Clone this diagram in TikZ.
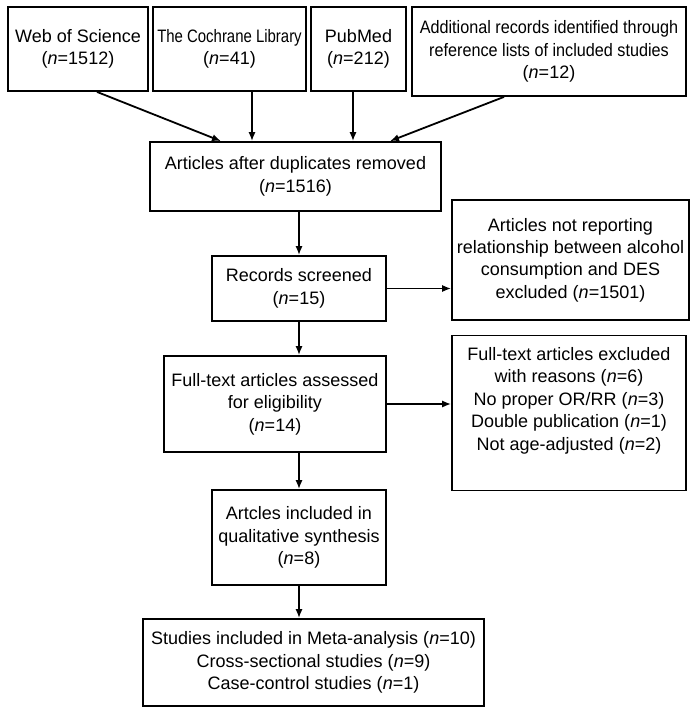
\documentclass[tikz,border=0pt]{standalone}
\usepackage{fontspec}
\setmainfont{Liberation Sans}
\usepackage{tikz}
\usetikzlibrary{arrows.meta}

\newcommand{\nn}{\textit{n}}
\newcommand{\narrow}[2]{\scalebox{#1}[1]{#2}}

\begin{document}
\begin{tikzpicture}[x=0.5pt,y=-0.5pt,->,>={Latex[length=4.5pt,width=3.6pt]},
      line width=0.9pt,
      box/.style={rectangle,draw,inner sep=0pt,align=center,
        font=\fontsize{9}{11.2}\selectfont}]

    \useasboundingbox[fill=white] (0,0) rectangle (693,713);

    % sources
    \node[box,minimum width=70pt,minimum height=42pt] (wos) at (78,49)
      {Web of Science\\(\nn=1512)};
    \node[box,minimum width=76.5pt,minimum height=42pt] (coch) at (229.5,49)
      {\narrow{0.83}{The Cochrane Library}\\(\nn=41)};
    \node[box,minimum width=47.5pt,minimum height=42pt] (pub) at (358.5,49)
      {PubMed\\(\nn=212)};
    \node[box,minimum width=137pt,minimum height=44.5pt] (add) at (549,51.5)
      {\narrow{0.9}{Additional records identified through}\\
       \narrow{0.9}{reference lists of included studies}\\(\nn=12)};

    % main column
    \node[box,minimum width=145.5pt,minimum height=34.5pt] (dup) at (295.5,176.5)
      {Articles after duplicates removed\\(\nn=1516)};
    \node[box,minimum width=87pt,minimum height=32.5pt] (rec) at (299,288.5)
      {Records screened\\(\nn=15)};
    \node[box,minimum width=111pt,minimum height=48pt] (ft) at (275,404)
      {Full-text articles assessed\\for eligibility\\(\nn=14)};
    \node[box,minimum width=87pt,minimum height=47.5pt] (qual) at (299,537.5)
      {Artcles included in\\qualitative synthesis\\(\nn=8)};
    \node[box,minimum width=170.5pt,minimum height=43.5pt] (meta) at (313.5,662.5)
      {Studies included in Meta-analysis (\nn=10)\\
       Cross-sectional studies (\nn=9)\\Case-control studies (\nn=1)};

    % exclusions
    \node[box,minimum width=118.5pt,minimum height=60pt] (notrep) at (570.5,260)
      {Articles not reporting\\relationship between alcohol\\
       consumption and DES\\excluded (\nn=1501)};
    \node[box,minimum width=117pt,minimum height=77.5pt] (excl) at (569,413)
      {Full-text articles excluded\\with reasons (\nn=6)\\
       No proper OR/RR (\nn=3)\\Double publication (\nn=1)\\
       Not age-adjusted (\nn=2)\\[3pt]};

    \path
    ([xshift=9.5pt]wos.south) edge ([xshift=-37.25pt]dup.north)
    ([xshift=11.25pt]coch.south) edge ([xshift=-21.75pt]dup.north)
    ([xshift=-2.75pt]pub.south) edge ([xshift=28.75pt]dup.north)
    ([xshift=-22.5pt]add.south) edge ([xshift=47.25pt]dup.north)
    (dup.south -| rec.north) edge (rec.north)
    (rec.south) edge (rec.south |- ft.north)
    (ft.south -| qual.north) edge (qual.north)
    (qual.south) edge (qual.south |- meta.north)
    (rec.east) edge (rec.east -| notrep.west)
    (ft.east) edge (ft.east -| excl.west);
\end{tikzpicture}
\end{document}
